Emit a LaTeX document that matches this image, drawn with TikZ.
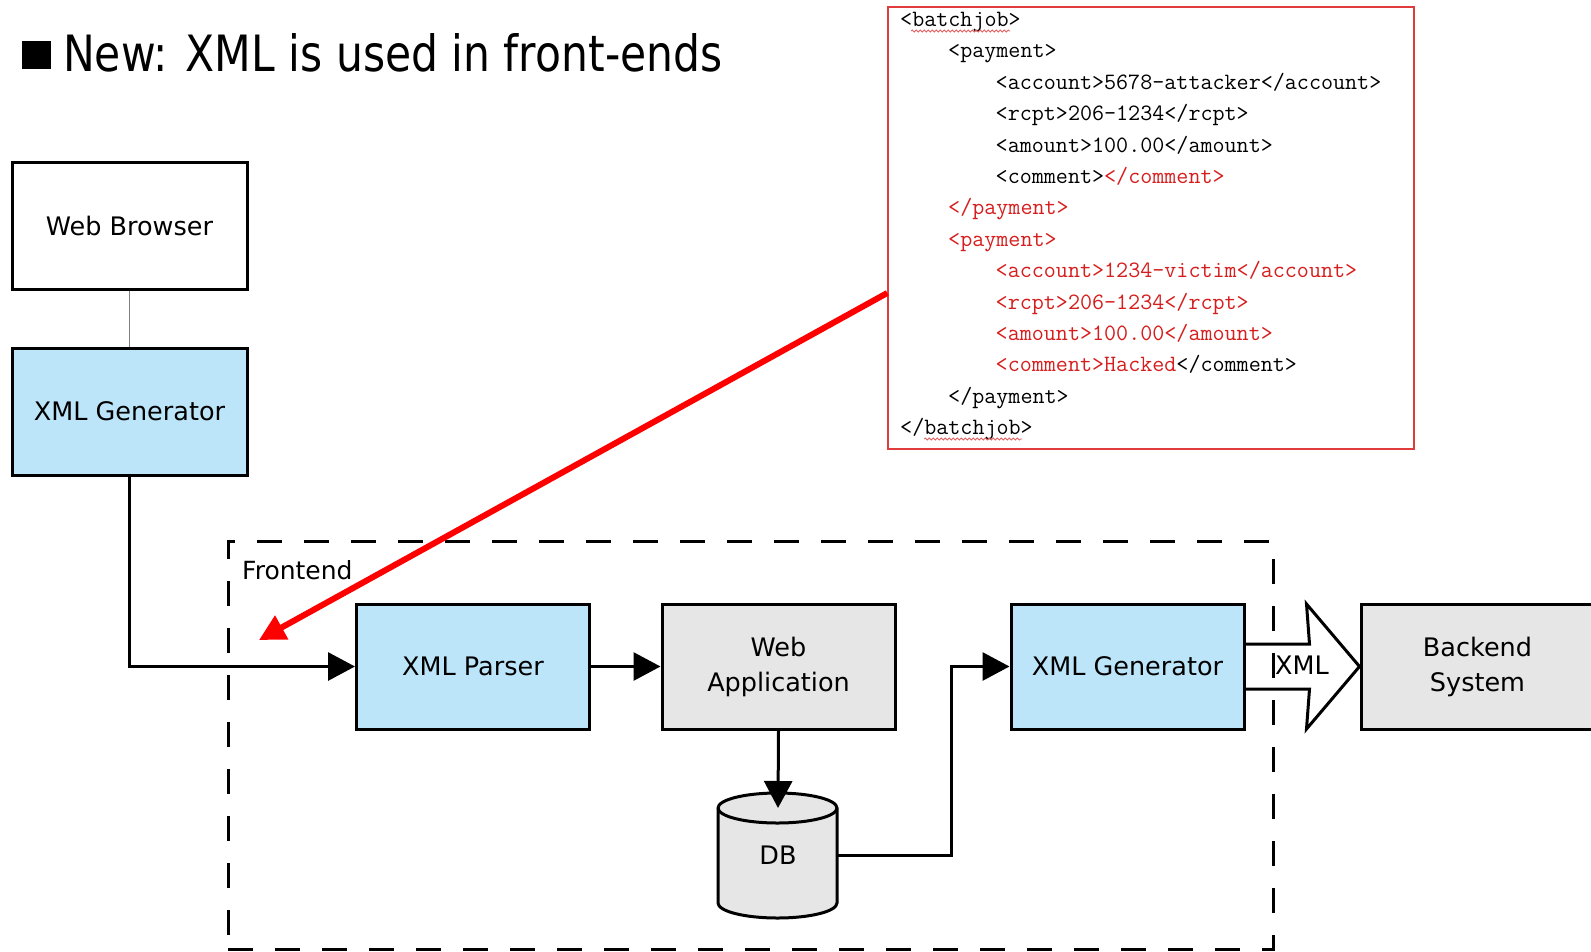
\documentclass[tikz,border=0pt]{standalone}
\usepackage{fontspec}
\setmainfont{DejaVu Sans}
\usetikzlibrary{arrows.meta,calc,decorations.pathmorphing}
\definecolor{boxblue}{RGB}{189,229,250}
\definecolor{boxgray}{RGB}{230,230,230}
\definecolor{codered}{RGB}{215,30,30}
\definecolor{framered}{RGB}{225,60,60}
\begin{document}
\begin{tikzpicture}[x=1pt,y=-1pt,
  box/.style={draw, line width=3pt, minimum width=233pt, minimum height=125pt, inner sep=0pt, align=center, font=\fontsize{25.5}{35}\selectfont},
  bluebox/.style={box, fill=boxblue},
  graybox/.style={box, fill=boxgray},
  whitebox/.style={box, fill=white},
  conn/.style={line width=3pt, -{Triangle[length=27pt,width=28pt]}},
  codeline/.style={anchor=base west, inner sep=0pt, font=\ttfamily\fontsize{23.4}{23.4}\selectfont},
  squiggle/.style={draw=codered!70, line width=0.8pt, decorate, decoration={snake, segment length=4pt, amplitude=1pt}},
]
\useasboundingbox (0,0) rectangle (1591,951);

% title
\node[fill=black, minimum size=28.4pt, inner sep=0pt] (bullet) at (36.5,55) {};
\node[anchor=west, inner sep=0pt] (title) at (63,52.5) {\resizebox{659pt}{38pt}{New: XML is used in front-ends}};

% frontend frame
\node[draw, line width=3pt, dash pattern=on 25pt off 22pt, minimum width=1045pt, minimum height=408pt, inner sep=0pt] (frontend) at (750.5,745) {};
\node[anchor=base west, inner sep=0pt, font=\fontsize{25}{30}\selectfont] (frontlbl) at (242,579) {Frontend};

% boxes
\node[whitebox, minimum width=235pt, minimum height=127pt] (browser) at (129.5,225.5) {Web Browser};
\node[bluebox, minimum width=235pt, minimum height=127pt] (gen1) at (129.5,411.5) {XML Generator};
\node[bluebox] (parser) at (473,666.5) {XML Parser};
\node[graybox] (webapp) at (778.5,666.5) {Web\\Application};
\node[bluebox] (gen2) at (1127.5,666.5) {XML Generator};
\node[graybox] (backend) at (1477.5,666.5) {Backend\\System};

% database cylinder
\filldraw[fill=boxgray, line width=3pt] (718,808) -- (718,903)
  arc[start angle=180, end angle=360, x radius=59.5pt, y radius=15pt] -- (837,808)
  arc[start angle=0, end angle=180, x radius=59.5pt, y radius=15pt] -- cycle;
\draw[line width=3pt] (718,808) arc[start angle=180, end angle=360, x radius=59.5pt, y radius=15pt];
\node[minimum width=119pt, minimum height=125pt, inner sep=0pt, font=\fontsize{25.5}{30}\selectfont] (db) at (778,855.5) {DB};
\coordinate (dbtop) at (778,808);

% connectors
\draw[gray, line width=1.5pt] (browser.south) -- (gen1.north);
\draw[conn] (gen1.south) |- (parser.west);
\draw[conn] (parser.east) -- (webapp.west);
\draw[conn] (webapp.south) -- (dbtop);
\draw[conn] (db.east) -| ($(gen2.west)+(-58,0)$) -- (gen2.west);

% hollow arrow
\draw[line width=3pt, line join=miter] ($(gen2.east)+(0,-22.5)$) -- ($(gen2.east)+(64,-22.5)$)
  -- ($(backend.west)+(-53,-62.5)$) -- (backend.west) -- ($(backend.west)+(-53,62.5)$)
  -- ($(gen2.east)+(64,22.5)$) -- ($(gen2.east)+(0,22.5)$);
\node[inner sep=0pt, font=\fontsize{25.5}{30}\selectfont] (xmllbl) at (1302,665) {XML};

% code box
\node[draw=framered, fill=white, line width=1.5pt, minimum width=526pt, minimum height=442pt, inner sep=0pt] (code) at (1151,228) {};
\node[codeline] (c1) at (900,26.5) {<batchjob>};
\node[codeline] (c2) at (948,57.9) {<payment>};
\node[codeline] (c3) at (995.5,89.3) {<account>5678-attacker</account>};
\node[codeline] (c4) at (995.5,120.7) {<rcpt>206-1234</rcpt>};
\node[codeline] (c5) at (995.5,152.1) {<amount>100.00</amount>};
\node[codeline] (c6) at (995.5,183.5) {<comment>\textcolor{codered}{</comment>}};
\node[codeline, text=codered] (c7) at (948,214.9) {</payment>};
\node[codeline, text=codered] (c8) at (948,246.3) {<payment>};
\node[codeline, text=codered] (c9) at (995.5,277.7) {<account>1234-victim</account>};
\node[codeline, text=codered] (c10) at (995.5,309.1) {<rcpt>206-1234</rcpt>};
\node[codeline, text=codered] (c11) at (995.5,340.5) {<amount>100.00</amount>};
\node[codeline] (c12) at (995.5,371.9) {\textcolor{codered}{<comment>Hacked}</comment>};
\node[codeline] (c13) at (948,403.3) {</payment>};
\node[codeline] (c14) at (900,434.7) {</batchjob>};
\path[squiggle] (911,31) -- (1010,31);
\path[squiggle] (924,439) -- (1022,439);

% red arrow
\coordinate (redstart) at ($(code.west)+(0,65)$);
\coordinate (redend) at (259,640);
\draw[red, line width=6pt, -{Triangle[length=26pt,width=26pt]}] (redstart) -- (redend);
\end{tikzpicture}
\end{document}
